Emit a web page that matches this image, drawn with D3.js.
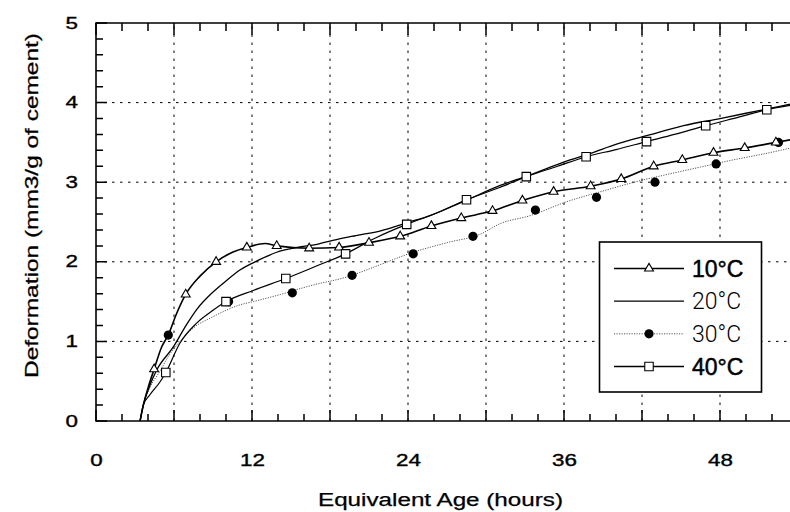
<!DOCTYPE html>
<html>
<head>
<meta charset="utf-8">
<script src="https://cdn.jsdelivr.net/npm/d3@7"></script>
<style>
  body { margin: 0; background: #fff; }
  svg { display: block; font-family: "Liberation Sans", Arial, Helvetica, sans-serif; }
</style>
</head>
<body>
<div id="chart"></div>
<script>
// chart values: [age in hours, deformation]
const seriesNames = ["10°C", "20°C", "30°C", "40°C"];

const line10 = [[3.39,0],[3.64,0.2],[4.03,0.43],[4.47,0.65],[5.05,0.93],[5.56,1.08],[6.2,1.35],[6.9,1.59],
  [8.0,1.82],[9.24,2.0],[10.5,2.12],[11.6,2.18],[13.0,2.23],[13.9,2.2],[16.4,2.17],[18.7,2.18],[21.0,2.24],
  [23.4,2.32],[25.8,2.45],[28.1,2.55],[30.5,2.64],[32.8,2.77],[35.2,2.88],[38.05,2.95],[40.4,3.04],
  [42.9,3.2],[45.1,3.28],[47.5,3.37],[49.9,3.43],[52.3,3.5],[54,3.55]];
const marks10 = [[4.47,0.65],[6.9,1.59],[9.24,2.0],[11.6,2.18],[13.9,2.2],[16.4,2.17],[18.7,2.18],[21.0,2.24],
  [23.4,2.32],[25.8,2.45],[28.1,2.55],[30.5,2.64],[32.8,2.77],[35.2,2.88],[38.05,2.95],[40.4,3.04],
  [42.9,3.2],[45.1,3.28],[47.5,3.37],[49.9,3.43],[52.3,3.5]];

const line20 = [[3.39,0],[3.64,0.2],[4.15,0.45],[4.67,0.64],[5.95,0.93],[7.0,1.22],[7.74,1.4],[9.0,1.62],
  [10,1.76],[11.1,1.9],[12.5,2.02],[13.9,2.12],[15.5,2.18],[17,2.22],[18.5,2.28],[20,2.33],[21.9,2.39],
  [23.9,2.49],[25.7,2.58],[28.3,2.76],[31.1,2.96],[33.2,3.08],[36.3,3.27],[38,3.36],[40.1,3.48],
  [42.5,3.59],[45.2,3.71],[48,3.8],[51,3.9],[54,4.0]];

const line30 = [[3.39,0],[3.64,0.2],[4.15,0.42],[4.9,0.62],[5.6,0.82],[6.46,1.0],[7.5,1.17],[9.0,1.31],
  [11.1,1.46],[12.1,1.5],[14.2,1.59],[16.5,1.7],[19.3,1.81],[21.8,1.96],[24.4,2.12],[27,2.24],[29.6,2.35],
  [31.1,2.48],[33.4,2.58],[36.3,2.76],[38.8,2.88],[41.4,3.0],[44,3.1],[46.5,3.19],[49,3.28],[51.5,3.36],[54,3.45]];
const marks30 = [[5.56,1.08],[10.2,1.5],[15.1,1.61],[19.7,1.83],[24.4,2.1],[29.0,2.32],[33.8,2.65],
  [38.5,2.81],[43.0,3.0],[47.7,3.23],[52.5,3.5]];

const line40 = [[3.39,0],[3.64,0.2],[4.15,0.33],[4.92,0.49],[5.37,0.61],[6.46,0.98],[7.74,1.23],[9.0,1.39],
  [10.0,1.5],[12.1,1.64],[14.6,1.79],[17,1.95],[19.2,2.1],[21.5,2.3],[23.9,2.47],[26,2.6],[28.5,2.78],
  [31,2.93],[33.1,3.07],[35.5,3.2],[37.7,3.32],[40,3.41],[42.35,3.51],[44.5,3.6],[46.9,3.71],[49.5,3.82],
  [51.6,3.91],[54,3.98]];
const marks40 = [[5.37,0.61],[10.0,1.5],[14.6,1.79],[19.2,2.1],[23.9,2.47],[28.5,2.78],[33.1,3.07],
  [37.7,3.32],[42.35,3.51],[46.9,3.71],[51.6,3.91]];

const xLabels = [0, 12, 24, 36, 48];
const yLabels = [0, 1, 2, 3, 4, 5];

const W = 790, H = 512;
const mLeft = 96, mTop = 23, mBottom = 421;
const STRETCH = 1.4; // tick labels in the source are wide

const x = d3.scaleLinear().domain([0, 54]).range([mLeft, mLeft + 54 * 13]);
const y = d3.scaleLinear().domain([0, 5]).range([mBottom, mTop]);

const svg = d3.select("#chart").append("svg")
  .attr("width", W).attr("height", H);

// dotted grid
const grid = svg.append("g").attr("stroke", "#000").attr("stroke-width", 1)
  .attr("stroke-dasharray", "2.5,5.5");
grid.selectAll(".gx").data(d3.range(6, 54, 6)).join("line")
  .attr("x1", d => x(d)).attr("x2", d => x(d))
  .attr("y1", y(0)).attr("y2", y(5));
grid.selectAll(".gy").data([1, 2, 3, 4]).join("line")
  .attr("x1", x(0)).attr("x2", W + 10)
  .attr("y1", d => y(d)).attr("y2", d => y(d));

// inward ticks, one path
const tp = d3.path();
d3.range(0, 55, 2).forEach(v => {
  const len = v % 6 === 0 ? 11 : 7;
  tp.moveTo(x(v), mBottom); tp.lineTo(x(v), mBottom - len);
  tp.moveTo(x(v), mTop); tp.lineTo(x(v), mTop + len + 1);
});
d3.range(0, 26).forEach(i => {
  const v = i / 5;
  const len = i % 5 === 0 ? 11 : 7;
  tp.moveTo(mLeft, y(v)); tp.lineTo(mLeft + len, y(v));
});
svg.append("path").attr("class", "ticks").attr("d", tp.toString())
  .attr("fill", "none").attr("stroke", "#000").attr("stroke-width", 1.5);

// tick labels
const xl = svg.append("g").attr("transform", `translate(0,${mBottom})`)
  .call(d3.axisBottom(x).tickValues(xLabels).tickSize(0).tickPadding(33.5).tickFormat(d3.format("d")));
xl.select(".domain").remove();
xl.attr("font-family", null).attr("font-size", 16);
xl.selectAll("text").attr("fill", "#000").attr("stroke", "#000").attr("stroke-width", 0.35)
  .attr("transform", `scale(${STRETCH},1)`);

const yl = svg.append("g").attr("transform", `translate(${mLeft},0)`)
  .call(d3.axisLeft(y).tickValues(yLabels).tickSize(0).tickPadding(18 / STRETCH).tickFormat(d3.format("d")));
yl.select(".domain").remove();
yl.attr("font-family", null).attr("font-size", 16);
yl.selectAll("text").attr("fill", "#000").attr("stroke", "#000").attr("stroke-width", 0.35)
  .attr("transform", `scale(${STRETCH},1)`);

// frame
svg.append("path")
  .attr("d", `M${W + 10},${mTop}H${mLeft}V${mBottom}H${W + 10}`)
  .attr("fill", "none").attr("stroke", "#000").attr("stroke-width", 1.6);

// curves
const line = d3.line().x(d => x(d[0])).y(d => y(d[1])).curve(d3.curveMonotoneX);
const plot = svg.append("g");

plot.append("path").datum(line30).attr("d", line)
  .attr("fill", "none").attr("stroke", "#444").attr("stroke-width", 0.9).attr("stroke-dasharray", "1.2,1.3");
plot.append("path").datum(line40).attr("d", line)
  .attr("fill", "none").attr("stroke", "#000").attr("stroke-width", 1.2);
plot.append("path").datum(line20).attr("d", line)
  .attr("fill", "none").attr("stroke", "#000").attr("stroke-width", 1.3);
plot.append("path").datum(line10).attr("d", line)
  .attr("fill", "none").attr("stroke", "#000").attr("stroke-width", 1.6);

const tri = d3.symbol(d3.symbolTriangle, 34);
const sq = d3.symbol(d3.symbolSquare, 72);

plot.selectAll(".m30").data(marks30).join("circle")
  .attr("cx", d => x(d[0])).attr("cy", d => y(d[1])).attr("r", 4.6).attr("fill", "#000");
plot.selectAll(".m10").data(marks10).join("path")
  .attr("d", tri).attr("transform", d => `translate(${x(d[0])},${y(d[1])})`)
  .attr("fill", "#fff").attr("stroke", "#000").attr("stroke-width", 1.1);
plot.selectAll(".m40").data(marks40).join("path")
  .attr("d", sq).attr("transform", d => `translate(${x(d[0])},${y(d[1])})`)
  .attr("fill", "#fff").attr("stroke", "#000").attr("stroke-width", 1.1);

// axis titles
svg.append("text")
  .attr("x", 318).attr("y", 506)
  .attr("font-size", 18).attr("textLength", 245).attr("lengthAdjust", "spacingAndGlyphs")
  .attr("stroke", "#000").attr("stroke-width", 0.25)
  .text("Equivalent Age (hours)");

svg.append("text")
  .attr("transform", "translate(38,378) rotate(-90)")
  .attr("font-size", 18).attr("textLength", 345).attr("lengthAdjust", "spacingAndGlyphs")
  .attr("stroke", "#000").attr("stroke-width", 0.25)
  .text("Deformation (mm3/g of cement)");

// legend
const lg = svg.append("g");
lg.append("rect").attr("x", 599.5).attr("y", 242).attr("width", 162).attr("height", 150)
  .attr("fill", "#fff").attr("stroke", "#000").attr("stroke-width", 1.6);

const legendY = d3.scalePoint().domain(seriesNames).range([268.5, 366.5]);
const styles = {
  "10°C": { w: 1.6, dash: null, col: "#000", heavy: true },
  "20°C": { w: 1.3, dash: null, col: "#000", heavy: false },
  "30°C": { w: 0.9, dash: "1.2,1.3", col: "#444", heavy: false },
  "40°C": { w: 1.3, dash: null, col: "#000", heavy: true }
};
seriesNames.forEach(n => {
  const yy = legendY(n), st = styles[n];
  lg.append("line").attr("x1", 614).attr("x2", 684).attr("y1", yy).attr("y2", yy)
    .attr("stroke", st.col).attr("stroke-width", st.w).attr("stroke-dasharray", st.dash);
  if (n === "10°C") {
    lg.append("path").attr("d", tri).attr("transform", `translate(649,${yy})`)
      .attr("fill", "#fff").attr("stroke", "#000").attr("stroke-width", 1.1);
  } else if (n === "30°C") {
    lg.append("circle").attr("cx", 649).attr("cy", yy).attr("r", 4.6).attr("fill", "#000");
  } else if (n === "40°C") {
    lg.append("path").attr("d", sq).attr("transform", `translate(649,${yy})`)
      .attr("fill", "#fff").attr("stroke", "#000").attr("stroke-width", 1.1);
  }
  lg.append("text").attr("x", 692).attr("y", yy + 8.3)
    .attr("font-size", 23)
    .attr("font-weight", st.heavy ? 400 : 300)
    .attr("stroke", st.heavy ? "#000" : null)
    .attr("stroke-width", st.heavy ? 0.5 : null)
    .attr("font-family", st.heavy ? null : "Roboto, 'Liberation Sans', sans-serif")
    .text(n);
});
</script>
</body>
</html>
